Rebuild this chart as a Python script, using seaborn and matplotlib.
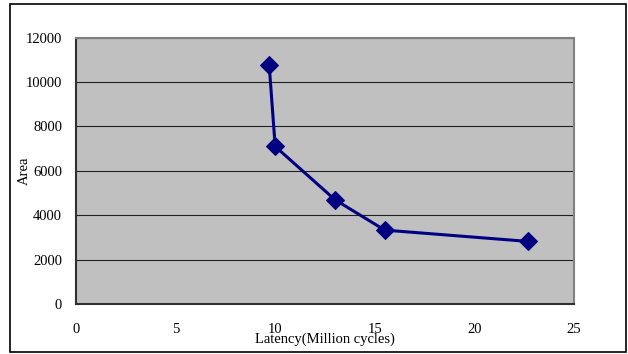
import matplotlib
matplotlib.use("Agg")
import matplotlib.pyplot as plt
from matplotlib.patches import Rectangle
import seaborn as sns
import pandas as pd

# Design points: latency (million cycles) vs. area
latency = [9.7, 10.0, 13.0, 15.5, 22.7]
area = [10750, 7100, 4700, 3330, 2820]
x_ticks = [0, 5, 10, 15, 20, 25]
y_ticks = [0, 2000, 4000, 6000, 8000, 10000, 12000]

df = pd.DataFrame({"Latency": latency, "Area": area})

sns.set_theme(style="white")
plt.rcParams["font.family"] = ["Liberation Serif", "DejaVu Serif"]

fig = plt.figure(figsize=(6.28, 3.54), dpi=100)
ax = fig.add_axes([0.121, 0.1412, 0.793, 0.7523])
ax.set_facecolor("#C0C0C0")

sns.lineplot(data=df, x="Latency", y="Area", sort=False, ax=ax,
             color="#000080", linewidth=2.2, marker="D", markersize=9,
             markeredgecolor="#000080", zorder=3)

ax.set_xlim(0, 25)
ax.set_ylim(0, 12000)
ax.set_xticks(x_ticks)
ax.set_yticks(y_ticks)
ax.set_xticklabels([str(t) for t in x_ticks], fontsize=10.5, color="black")
ax.set_yticklabels([str(t) for t in y_ticks], fontsize=10.5, color="black")

ax.yaxis.grid(True, color="#202020", linewidth=0.8)
ax.set_axisbelow(True)

for side in ["top", "right"]:
    ax.spines[side].set_color("#808080")
    ax.spines[side].set_linewidth(1.5)
for side in ["left", "bottom"]:
    ax.spines[side].set_color("#303030")
    ax.spines[side].set_linewidth(1.5)

ax.tick_params(axis="x", direction="in", length=4, width=1, color="black", pad=14)
ax.tick_params(axis="y", length=0, pad=10)

ax.set_xlabel("Latency(Million cycles)", fontsize=10.5, color="black", labelpad=-3)
ax.set_ylabel("Area", fontsize=10.5, color="black", labelpad=-4)

# outer frame around the whole chart
fig.patches.append(Rectangle((10 / 628, 2 / 354), 616 / 628, 348 / 354,
                             transform=fig.transFigure, fill=False,
                             edgecolor="black", linewidth=1.2))

fig.savefig("out.png", dpi=100)
